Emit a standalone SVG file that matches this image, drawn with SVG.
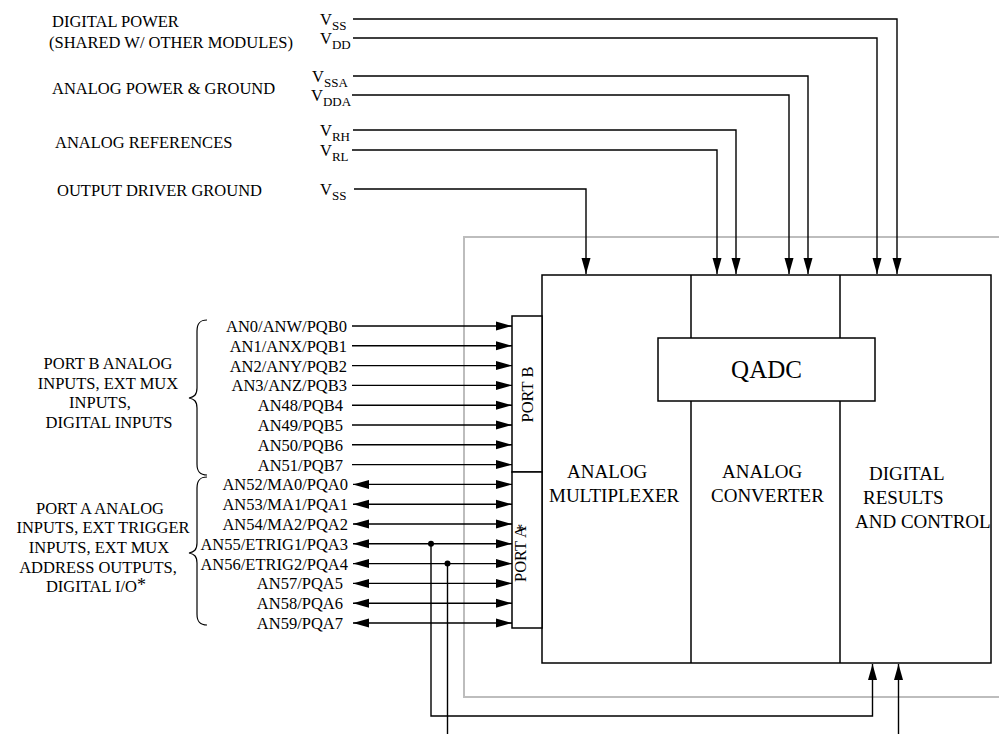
<svg xmlns="http://www.w3.org/2000/svg" width="999" height="734" viewBox="0 0 999 734" font-family="'Liberation Serif', 'Times New Roman', 'DejaVu Serif', serif">
<defs>
<style>
text{font-family:'Liberation Serif','Times New Roman','DejaVu Serif',serif;fill:#000}
.t{font-size:16.5px}
.sub{font-size:13px}
.blk{font-size:19px}
.ln{fill:none;stroke:#000;stroke-width:1.4}
.box{fill:#fff;stroke:#000;stroke-width:1.5}
.gray{fill:none;stroke:#bdbdbd;stroke-width:2}
.brace{fill:none;stroke:#000;stroke-width:1.2}
</style>
<marker id="ah" markerUnits="userSpaceOnUse" markerWidth="16" markerHeight="10" refX="16" refY="4.5" orient="auto-start-reverse" viewBox="0 0 16 9">
<path d="M0,0 L16,4.5 L0,9 z" fill="#000"/>
</marker>
</defs>
<rect width="999" height="734" fill="#fff"/>

<!-- gray module frame -->
<path class="gray" d="M999,237 H464 V697 H999"/>

<!-- supply labels -->
<g id="supply-labels" class="t">
<text x="52" y="26.5">DIGITAL POWER</text>
<text x="49" y="47.5">(SHARED W/ OTHER MODULES)</text>
<text x="52" y="93.5">ANALOG POWER &amp; GROUND</text>
<text x="55" y="147.5">ANALOG REFERENCES</text>
<text x="57" y="195.5">OUTPUT DRIVER GROUND</text>
<text x="320" y="24.5">V<tspan class="sub" dy="5.5">SS</tspan></text>
<text x="320" y="43.5">V<tspan class="sub" dy="5.5">DD</tspan></text>
<text x="312" y="81.5">V<tspan class="sub" dy="5.5">SSA</tspan></text>
<text x="311" y="100.5">V<tspan class="sub" dy="5.5">DDA</tspan></text>
<text x="320" y="135.5">V<tspan class="sub" dy="5.5">RH</tspan></text>
<text x="320" y="155.5">V<tspan class="sub" dy="5.5">RL</tspan></text>
<text x="320" y="194.5">V<tspan class="sub" dy="5.5">SS</tspan></text>
</g>

<!-- main block -->
<g id="qadc-block">
<rect class="box" x="542" y="275" width="449" height="388"/>
<line class="ln" x1="691" y1="275" x2="691" y2="663" style="stroke-width:1.5"/>
<line class="ln" x1="840" y1="275" x2="840" y2="663" style="stroke-width:1.5"/>
</g>
<g id="analog-multiplexer" class="blk">
<text x="567" y="478">ANALOG</text>
<text x="549" y="502">MULTIPLEXER</text>
</g>
<g id="analog-converter" class="blk">
<text x="722" y="478">ANALOG</text>
<text x="711" y="502">CONVERTER</text>
</g>
<g id="digital-results" class="blk">
<text x="869" y="480">DIGITAL</text>
<text x="863" y="503.5">RESULTS</text>
<text x="855" y="527.5">AND CONTROL</text>
</g>
<g id="qadc">
<rect class="box" x="658" y="338" width="217" height="63"/>
<text x="766.5" y="378" text-anchor="middle" style="font-size:25px">QADC</text>
</g>

<!-- ports -->
<g id="port-b">
<rect class="box" x="512" y="316" width="30" height="156"/>
<text transform="translate(533,394.5) rotate(-90)" text-anchor="middle" class="t">PORT B</text>
</g>
<g id="port-a">
<rect class="box" x="512" y="472" width="30" height="156"/>
<text transform="translate(526,582) rotate(-90)" class="t">PORT A<tspan dx="-6" dy="2">*</tspan></text>
</g>

<!-- braces and group labels -->
<g id="port-b-group">
<path class="brace" d="M207,320 C200,320 197,323 197,331 L197,388 C197,395 194,397 189,398 C194,399 197,401 197,408 L197,464 C197,472 200,475 207,475"/>
<g class="t" text-anchor="middle">
<text x="108" y="368.5">PORT B ANALOG</text>
<text x="108" y="388.5">INPUTS, EXT MUX</text>
<text x="100" y="408">INPUTS,</text>
<text x="109" y="428">DIGITAL INPUTS</text>
</g>
</g>
<g id="port-a-group">
<path class="brace" d="M207,477 C200,477 197,480 197,488 L197,543 C197,550 194,552 189,553 C194,554 197,556 197,563 L197,614 C197,622 200,625 207,625"/>
<g class="t" text-anchor="middle">
<text x="100" y="513.5">PORT A ANALOG</text>
<text x="103" y="533">INPUTS, EXT TRIGGER</text>
<text x="99" y="553">INPUTS, EXT MUX</text>
<text x="98" y="572.5">ADDRESS OUTPUTS,</text>
<text x="96" y="592">DIGITAL I/O<tspan dy="-1" style="font-size:18px">*</tspan></text>
</g>
</g>

<!-- pin labels -->
<g id="pin-labels" class="t" text-anchor="end">
<text x="347" y="332">AN0/ANW/PQB0</text>
<text x="347" y="351.8">AN1/ANX/PQB1</text>
<text x="347" y="371.6">AN2/ANY/PQB2</text>
<text x="347" y="391.4">AN3/ANZ/PQB3</text>
<text x="343" y="411.2">AN48/PQB4</text>
<text x="343" y="431">AN49/PQB5</text>
<text x="343" y="450.8">AN50/PQB6</text>
<text x="343" y="470.6">AN51/PQB7</text>
<text x="348" y="490.4">AN52/MA0/PQA0</text>
<text x="348" y="510.2">AN53/MA1/PQA1</text>
<text x="348" y="530">AN54/MA2/PQA2</text>
<text x="348" y="549.8">AN55/ETRIG1/PQA3</text>
<text x="348" y="569.6">AN56/ETRIG2/PQA4</text>
<text x="343" y="589.4">AN57/PQA5</text>
<text x="343" y="609.2">AN58/PQA6</text>
<text x="343" y="629">AN59/PQA7</text>
</g>

<!-- connectors -->
<g id="connectors" class="ln">
<path d="M353,19 H897 V274" marker-end="url(#ah)"/>
<path d="M353,38 H877 V274" marker-end="url(#ah)"/>
<path d="M353,76 H808 V274" marker-end="url(#ah)"/>
<path d="M352,95 H789 V274" marker-end="url(#ah)"/>
<path d="M353,130 H736 V274" marker-end="url(#ah)"/>
<path d="M352,150 H717 V274" marker-end="url(#ah)"/>
<path d="M354,189 H586 V274" marker-end="url(#ah)"/>

<path d="M352,326 H512" marker-end="url(#ah)"/>
<path d="M352,345.8 H512" marker-end="url(#ah)"/>
<path d="M352,365.6 H512" marker-end="url(#ah)"/>
<path d="M352,385.4 H512" marker-end="url(#ah)"/>
<path d="M352,405.2 H512" marker-end="url(#ah)"/>
<path d="M352,425 H512" marker-end="url(#ah)"/>
<path d="M352,444.8 H512" marker-end="url(#ah)"/>
<path d="M352,464.6 H512" marker-end="url(#ah)"/>

<path d="M353,484.4 H512" marker-start="url(#ah)" marker-end="url(#ah)"/>
<path d="M353,504.2 H512" marker-start="url(#ah)" marker-end="url(#ah)"/>
<path d="M353,524 H512" marker-start="url(#ah)" marker-end="url(#ah)"/>
<path d="M353,543.8 H512" marker-start="url(#ah)" marker-end="url(#ah)"/>
<path d="M353,563.6 H512" marker-start="url(#ah)" marker-end="url(#ah)"/>
<path d="M353,583.4 H512" marker-start="url(#ah)" marker-end="url(#ah)"/>
<path d="M353,603.2 H512" marker-start="url(#ah)" marker-end="url(#ah)"/>
<path d="M353,623 H512" marker-start="url(#ah)" marker-end="url(#ah)"/>

<path d="M431,543.8 V716 H872.5 V664" marker-end="url(#ah)"/>
<path d="M447.5,563.6 V734"/>
<path d="M898.5,734 V664" marker-end="url(#ah)"/>
<circle cx="431" cy="543.8" r="3" fill="#000" stroke="none"/>
<circle cx="447.5" cy="563.6" r="3" fill="#000" stroke="none"/>
</g>
</svg>
